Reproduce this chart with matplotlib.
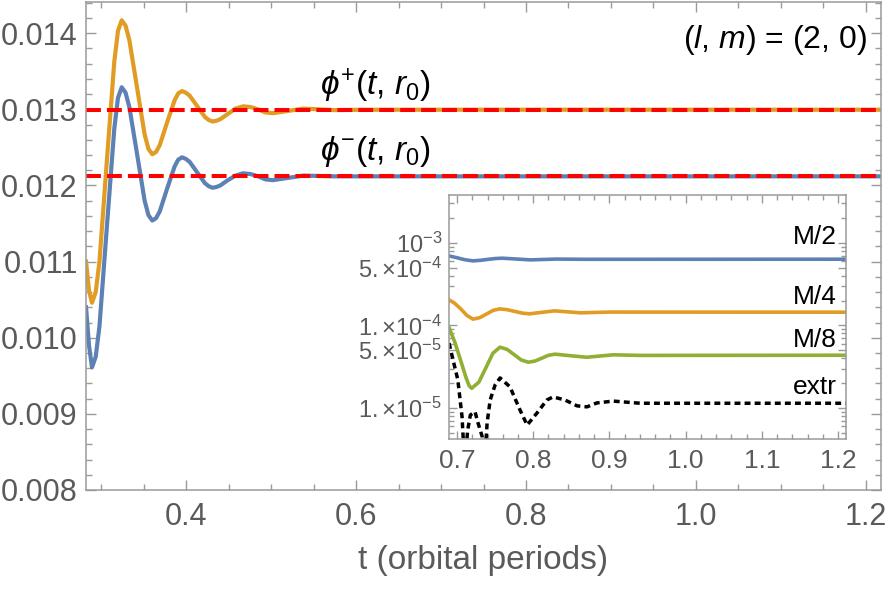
import matplotlib
matplotlib.use("Agg")
import matplotlib.pyplot as plt
from matplotlib.ticker import MultipleLocator, FixedLocator, LogLocator, NullFormatter

plt.rcParams['font.family'] = ['Liberation Sans', 'DejaVu Sans']
plt.rcParams['mathtext.fontset'] = 'custom'
plt.rcParams['mathtext.rm'] = 'Liberation Sans'
plt.rcParams['mathtext.it'] = 'Liberation Sans:italic'
plt.rcParams['mathtext.bf'] = 'Liberation Sans:bold'

# main panel: phi^+ and phi^- at r0 vs time (orbital periods)
t_main = [0.282, 0.2855, 0.289, 0.2934, 0.2978, 0.3065, 0.3153, 0.3196, 0.324, 0.3285,
          0.333, 0.342, 0.351, 0.3555, 0.360, 0.3644, 0.3688, 0.3775, 0.3863, 0.3906,
          0.395, 0.3994, 0.404, 0.413, 0.422, 0.4265, 0.431, 0.4355, 0.440, 0.449,
          0.458, 0.467, 0.4758, 0.4845, 0.4933, 0.502, 0.520, 0.538, 0.574, 0.61, 1.22]
phi_plus = [0.01100, 0.01062, 0.01046, 0.01060, 0.01100, 0.01232, 0.01363, 0.01403, 0.01417, 0.01410,
            0.01391, 0.01329, 0.01267, 0.01248, 0.01241, 0.01244, 0.01253, 0.01283, 0.01312, 0.01321,
            0.01324, 0.01322, 0.01318, 0.01304, 0.01290, 0.01286, 0.01284, 0.01285, 0.01287, 0.01294,
            0.01301, 0.01304, 0.01303, 0.01300, 0.01296, 0.01295, 0.01298, 0.01301, 0.01299, 0.012995,
            0.012995]
phi_minus = [0.01040, 0.00990, 0.00961, 0.00975, 0.01015, 0.01145, 0.01275, 0.01315, 0.01329, 0.01322,
             0.01303, 0.01242, 0.01180, 0.01161, 0.01154, 0.01157, 0.01166, 0.01196, 0.01225, 0.01234,
             0.01237, 0.01235, 0.01231, 0.01217, 0.01203, 0.01199, 0.01197, 0.01198, 0.01200, 0.01207,
             0.01213, 0.01216, 0.01215, 0.01212, 0.01208, 0.01207, 0.01210, 0.01213, 0.01212, 0.01212,
             0.01212]
asymptotes = [0.01299, 0.01212]

# inset: error vs time for different resolutions (log scale)
t_m2 = [0.6895, 0.700, 0.710, 0.721, 0.731, 0.740, 0.750, 0.759, 0.777, 0.796, 0.830, 0.870, 1.2105]
err_m2 = [6.95e-4, 6.6e-4, 6.25e-4, 6.05e-4, 6.15e-4, 6.3e-4, 6.45e-4, 6.52e-4, 6.38e-4, 6.22e-4,
          6.36e-4, 6.32e-4, 6.34e-4]
t_m4 = [0.6895, 0.697, 0.705, 0.713, 0.721, 0.7298, 0.7385, 0.7473, 0.756, 0.7658, 0.7755, 0.7853,
        0.795, 0.8115, 0.828, 0.862, 0.900, 1.2105]
err_m4 = [2.04e-4, 1.85e-4, 1.58e-4, 1.32e-4, 1.19e-4, 1.24e-4, 1.37e-4, 1.52e-4, 1.585e-4, 1.55e-4,
          1.48e-4, 1.41e-4, 1.38e-4, 1.44e-4, 1.50e-4, 1.42e-4, 1.45e-4, 1.445e-4]
t_m8 = [0.6895, 0.697, 0.705, 0.712, 0.716, 0.7193, 0.7286, 0.7379, 0.7471, 0.7564, 0.7657, 0.775,
        0.7843, 0.7936, 0.8024, 0.8111, 0.8199, 0.8286, 0.849, 0.870, 0.905, 0.940, 1.2105]
err_m8 = [9.4e-5, 6.3e-5, 3.7e-5, 2.3e-5, 1.85e-5, 1.73e-5, 2.05e-5, 3.07e-5, 4.6e-5, 5.45e-5, 5.12e-5,
          4.42e-5, 3.81e-5, 3.58e-5, 3.70e-5, 4.0e-5, 4.34e-5, 4.48e-5, 4.29e-5, 4.11e-5, 4.4e-5,
          4.33e-5, 4.35e-5]
t_ex = [0.6895, 0.701, 0.7066, 0.710, 0.714, 0.7175, 0.7236, 0.7275, 0.733, 0.736, 0.7395, 0.7435,
        0.750, 0.7565, 0.7695, 0.7825, 0.792, 0.805, 0.818, 0.826, 0.8415, 0.8575, 0.8705, 0.8835,
        0.905, 0.94, 1.2105]
err_ex = [6.1e-5, 2.2e-5, 7.8e-6, 2e-6, 5.4e-6, 8.2e-6, 9.0e-6, 6.6e-6, 4.5e-6, 2e-6, 6.6e-6, 1.25e-5,
          1.9e-5, 2.31e-5, 1.8e-5, 9.5e-6, 6.2e-6, 8.7e-6, 1.25e-5, 1.36e-5, 1.25e-5, 1.06e-5, 1.03e-5,
          1.15e-5, 1.21e-5, 1.14e-5, 1.14e-5]
inset_labels = ['M/2', 'M/4', 'M/8', 'extr']
inset_yticks = [1e-5, 5e-5, 1e-4, 5e-4, 1e-3]
inset_yticklabels = [r'$1.{\times}10^{-5}$', r'$5.{\times}10^{-5}$', r'$1.{\times}10^{-4}$',
                     r'$5.{\times}10^{-4}$', r'$10^{-3}$']

BLUE = '#5e81b5'
ORANGE = '#e19c24'
GREEN = '#8fb032'
GREY = '#5a5a5a'
SPINE = '#9a9a9a'

fig = plt.figure(figsize=(8.86, 5.92), dpi=100)
ax = fig.add_axes([0.0971, 0.1723, 0.8973, 0.8243])

ax.plot(t_main, phi_plus, color=ORANGE, lw=3.0, solid_joinstyle='round')
ax.plot(t_main, phi_minus, color=BLUE, lw=3.0, solid_joinstyle='round')
for a in asymptotes:
    ax.axhline(a, color='#ff0000', lw=2.9, dashes=(3.7, 1.5), dash_capstyle='butt')

ax.set_xlim(0.282, 1.218)
ax.set_ylim(0.008, 0.01441)
ax.xaxis.set_major_locator(MultipleLocator(0.2))
ax.xaxis.set_minor_locator(MultipleLocator(0.05))
ax.yaxis.set_major_locator(MultipleLocator(0.001))
ax.yaxis.set_minor_locator(MultipleLocator(0.0002))
ax.yaxis.set_major_formatter(matplotlib.ticker.FormatStrFormatter('%.3f'))
ax.tick_params(which='both', direction='in', top=True, right=True, color=SPINE, width=1)
ax.tick_params(which='major', length=7)
ax.tick_params(which='minor', length=4)
ax.tick_params(axis='x', labelsize=22, labelcolor=GREY, pad=9)
ax.tick_params(axis='y', labelsize=22, labelcolor=GREY, pad=6)
for s in ax.spines.values():
    s.set_color(SPINE)
    s.set_linewidth(1.1)
ax.set_xlabel('t (orbital periods)', fontsize=24, color=GREY, labelpad=9)

ax.text(0.3635, 0.828, r'$\phi^{+}(t$, $r_0)$', transform=ax.transAxes, fontsize=24,
        ha='center', va='center')
ax.text(0.3635, 0.693, r'$\phi^{-}(t$, $r_0)$', transform=ax.transAxes, fontsize=24,
        ha='center', va='center')
ax.text(0.982, 0.922, '(' + r'$l$' + ', ' + r'$m$' + ') = (2, 0)', transform=ax.transAxes,
        fontsize=23, ha='right', va='center')

# inset
axi = fig.add_axes([0.5068, 0.2584, 0.4481, 0.4122])
axi.plot(t_m2, err_m2, color=BLUE, lw=2.6, solid_joinstyle='round')
axi.plot(t_m4, err_m4, color=ORANGE, lw=2.6, solid_joinstyle='round')
axi.plot(t_m8, err_m8, color=GREEN, lw=2.6, solid_joinstyle='round')
axi.plot(t_ex, err_ex, color='black', lw=2.5, dashes=(1.7, 1.2), dash_capstyle='butt')
axi.set_yscale('log')
axi.set_xlim(0.6895, 1.2105)
axi.set_ylim(4.2e-6, 3.8e-3)
axi.xaxis.set_major_locator(MultipleLocator(0.1))
axi.xaxis.set_minor_locator(MultipleLocator(0.02))
axi.xaxis.set_major_formatter(matplotlib.ticker.FormatStrFormatter('%.1f'))
axi.yaxis.set_major_locator(FixedLocator(inset_yticks))
axi.set_yticklabels(inset_yticklabels)
axi.yaxis.set_minor_locator(LogLocator(base=10, subs=range(2, 10)))
axi.yaxis.set_minor_formatter(NullFormatter())
axi.tick_params(which='both', direction='in', top=True, right=True, color=SPINE, width=1)
axi.tick_params(which='major', length=6)
axi.tick_params(which='minor', length=3.5)
axi.tick_params(axis='x', labelsize=19, labelcolor=GREY, pad=7)
axi.tick_params(axis='y', labelsize=17, labelcolor=GREY, pad=5)
for s in axi.spines.values():
    s.set_color(SPINE)
    s.set_linewidth(1.1)

for lab, yf in zip(inset_labels, [0.828, 0.582, 0.406, 0.213]):
    axi.text(0.977, yf, lab, transform=axi.transAxes, fontsize=19, ha='right', va='center')

fig.savefig('out.png', dpi=100)
